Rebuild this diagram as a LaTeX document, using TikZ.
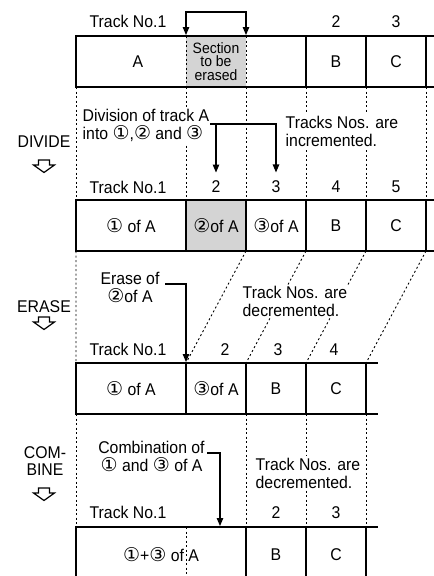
\documentclass[tikz,border=0pt]{standalone}
\usepackage{fontspec}
\setmainfont{Liberation Sans}[FakeStretch=0.93]
\newfontfamily\circfont{DejaVu Sans}
\usetikzlibrary{arrows.meta}
\newcommand{\cn}[1]{{\circfont\fontsize{19}{18}\selectfont#1}}

\begin{document}
\begin{tikzpicture}[x=1pt, y=-1pt, font=\fontsize{17}{18}\selectfont]
    \tikzset{cell/.style={draw, line width=1.6pt, minimum height=51, inner sep=0pt, outer sep=0pt},
      rim/.style={line width=1.6pt},
      guide/.style={line width=0.9pt, dash pattern=on 2pt off 2.5pt},
      cover/.style={fill=white, inner sep=1.5pt},
      arr/.style={line width=1.1pt, shorten >=1pt, -{Triangle[length=8pt,width=6.5pt]}},
      erased/.style={fill=black!17},
      hollow/.pic={\draw[line width=1.2pt] (-5.5,0) -- (5.5,0) -- (5.5,5) -- (10.5,5) -- (0,12.5) -- (-10.5,5) -- (-5.5,5) -- cycle;}}
    \useasboundingbox (0,0) rectangle (434,576);
    \clip (0,0) rectangle (434,576);
    \node[cell, draw=none, erased, minimum width=60, align=center, font=\fontsize{15}{13.5}\selectfont] (sec) at (216,61.5) {Section\\to be\\erased};
    \node[cell, minimum width=230] (trA) at (191,61.5) {};
    \node (lA) at (138,61.5) {A};
    \node[cell, minimum width=60] (r1b) at (336,61.5) {B};
    \node[cell, minimum width=60] (r1c) at (396,61.5) {C};
    \draw[rim] (r1c.north east) -- ++(10,0) (r1c.south east) -- ++(10,0);
    \node (t1a) at (128,21.5) {Track No.1};
    \node (t1b) at (336,21.5) {2};
    \node (t1c) at (396,21.5) {3};
    \node[cell, minimum width=110] (r2a) at (131,225.5) {\cn{①} of A};
    \node[cell, erased, minimum width=60] (r2b) at (216,225.5) {\cn{②}of A};
    \node[cell, minimum width=60] (r2c) at (276,225.5) {\cn{③}of A};
    \node[cell, minimum width=60] (r2d) at (336,225.5) {B};
    \node[cell, minimum width=60] (r2e) at (396,225.5) {C};
    \draw[rim] (r2e.north east) -- ++(10,0) (r2e.south east) -- ++(10,0);
    \node (t2a) at (128,187) {Track No.1};
    \node (t2b) at (216,187) {2};
    \node (t2c) at (276,187) {3};
    \node (t2d) at (336,187) {4};
    \node (t2e) at (396,187) {5};
    \node[cell, minimum width=110] (r3a) at (131,388.5) {\cn{①} of A};
    \node[cell, minimum width=60] (r3b) at (216,388.5) {\cn{③}of A};
    \node[cell, minimum width=60] (r3c) at (276,388.5) {B};
    \node[cell, minimum width=60] (r3d) at (336,388.5) {C};
    \draw[rim] (r3d.north east) -- ++(12,0) (r3d.south east) -- ++(12,0);
    \node (t3a) at (128,349.5) {Track No.1};
    \node (t3b) at (225,349.5) {2};
    \node (t3c) at (278,349.5) {3};
    \node (t3d) at (334,349.5) {4};
    \node[cell, minimum width=170, minimum height=56] (r4a) at (161,555) {\cn{①}+\cn{③} of A};
    \node[cell, minimum width=60, minimum height=56] (r4b) at (276,555) {B};
    \node[cell, minimum width=60, minimum height=56] (r4c) at (336,555) {C};
    \draw[rim] (r4c.north east) -- ++(12,0) (r4c.south east) -- ++(12,0);
    \node (t4a) at (128,512.5) {Track No.1};
    \node (t4b) at (276,512.5) {2};
    \node (t4c) at (336,512.5) {3};
    \draw[guide] (sec.north west) -- (sec.south west) (sec.north east) -- (sec.south east);
    \draw[guide] (trA.south west) -- (r2a.north west) (sec.south west) -- (r2b.north west)
      (sec.south east) -- (r2c.north west) (r1b.south west) -- (r2d.north west)
      (r1c.south west) -- (r2e.north west) (r1c.south east) -- (r2e.north east);
    \draw[guide] (r2a.south west) -- (r3a.north west) (r2b.south east) -- (r3b.north west)
      (r2c.south east) -- (r3c.north west) (r2d.south east) -- (r3d.north west)
      (r2e.south east) -- (r3d.north east);
    \draw[guide] (r3a.south west) -- (r4a.north west) (r3b.south east) -- (r4a.north east)
      (r3c.south east) -- (r4b.north east) (r3d.south east) -- (r4c.north east)
      (r3a.south east |- r4a.north) -- (r3a.south east |- r4a.south);
    \node[cover, align=left, anchor=west] (div) at (81,125.5) {Division of track A\\into \cn{①},\cn{②} and \cn{③}};
    \node[cover, align=left, anchor=west] (inc) at (284,131) {Tracks Nos. are\\incremented.};
    \node[cover, align=center] (ers) at (130,287) {Erase of\\\cn{②}of A};
    \node[cover, align=left, anchor=west] (dec1) at (241,301.5) {Track Nos. are\\decremented.};
    \node[cover, align=center] (cmb) at (151.5,456) {Combination of\\\cn{①} and \cn{③} of A};
    \node[cover, align=left, anchor=west] (dec2) at (254,473) {Track Nos. are\\decremented.};
    \coordinate (brk) at (216,12);
    \draw[arr] (brk) -| (sec.north west);
    \draw[arr] (brk) -| (sec.north east);
    \coordinate (dv) at (210,124);
    \draw[arr, shorten >=5pt] (dv) -| (t2b);
    \draw[arr, shorten >=5pt] (dv) -| (t2c);
    \coordinate (er) at (165,284);
    \draw[arr] (er) -| (r3b.north west);
    \coordinate (cb) at (207,453);
    \coordinate (cbt) at (220,527);
    \draw[arr] (cb) -| (cbt);
    \node (dvd) at (44,142) {DIVIDE};
    \pic at (44,160) {hollow};
    \node (ersl) at (44,307) {ERASE};
    \pic at (44,317) {hollow};
    \node[align=center, font=\fontsize{17}{16.5}\selectfont] (cmbl) at (45,461) {COM-\\BINE};
    \pic at (44,488) {hollow};
  \end{tikzpicture}
\end{document}
